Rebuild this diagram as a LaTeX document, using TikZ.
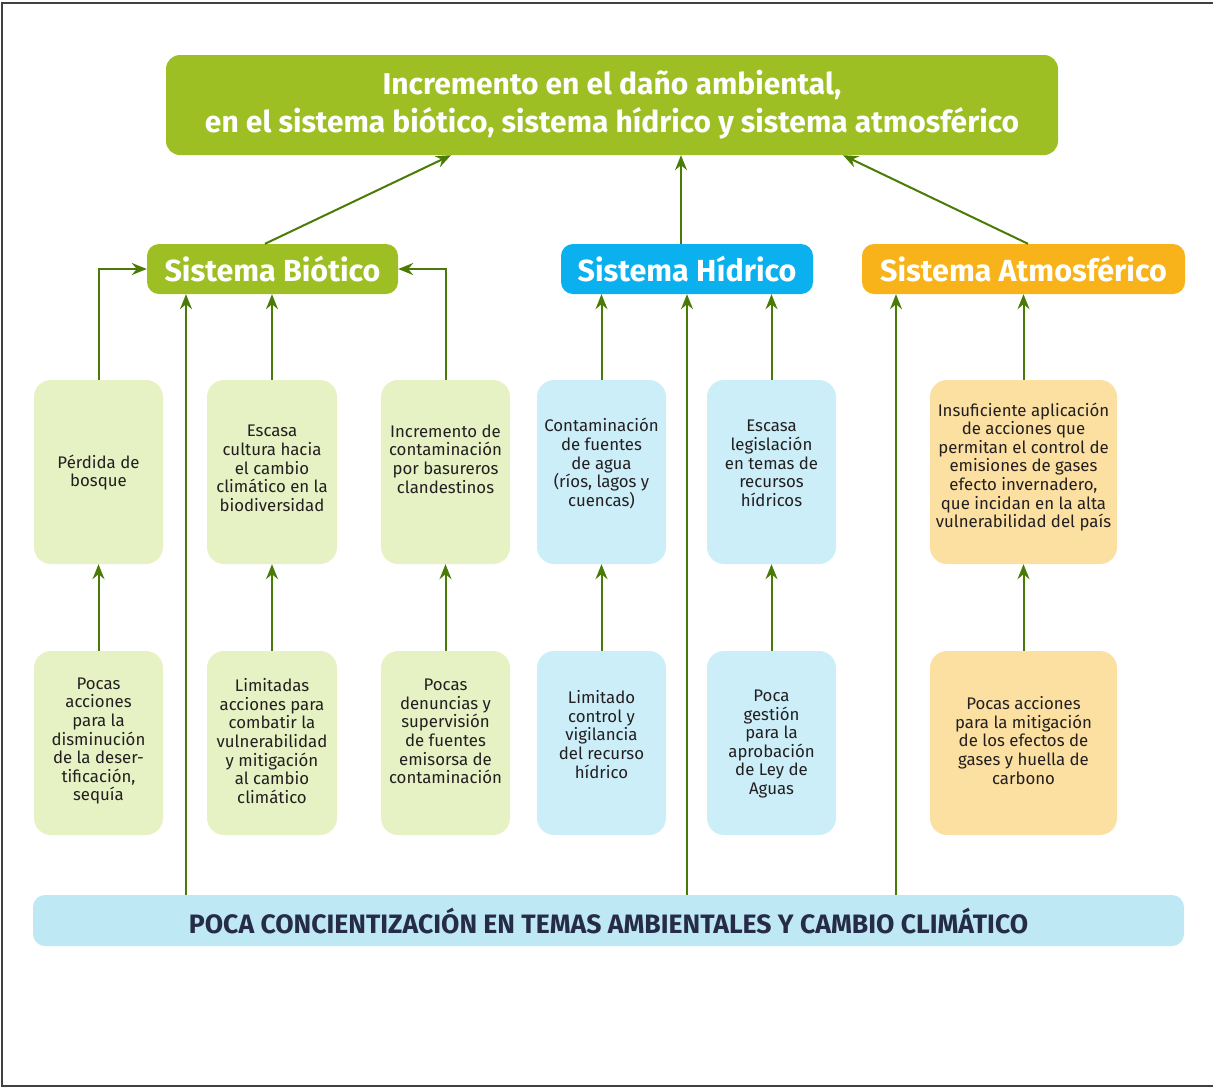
\documentclass[tikz,border=0pt]{standalone}
\usepackage{fontspec}
\setmainfont{Fira Sans}
\newfontfamily\headfont{Fira Sans}
\usetikzlibrary{arrows.meta}
\definecolor{topgreen}{HTML}{9EBF24}
\definecolor{arrowgreen}{HTML}{4A7B06}
\definecolor{hidro}{HTML}{0AB1EE}
\definecolor{atmos}{HTML}{F8B31A}
\definecolor{lgreen}{HTML}{E6F1C4}
\definecolor{lblue}{HTML}{CCEEF9}
\definecolor{lorange}{HTML}{FCE0A1}
\definecolor{barblue}{HTML}{BEE8F4}
\definecolor{navy}{HTML}{262C48}
\definecolor{txtdark}{HTML}{231F20}
\tikzset{
  arr/.style={draw=arrowgreen, line width=2pt, -{Stealth[length=15pt,width=12pt,inset=5pt]}},
  sysbox/.style={rounded corners=12pt, minimum height=50pt, inner sep=0pt, text=white,
    font=\headfont\bfseries\fontsize{30.5}{36}\selectfont},
  cbox/.style={rounded corners=17pt, minimum height=184pt, inner sep=0pt},
  lbl/.style={align=center, text=txtdark, inner sep=0pt, font=\fontsize{16.8}{18.6}\selectfont},
}
\begin{document}
\begin{tikzpicture}[x=1pt,y=-1pt]
\useasboundingbox (0,0) rectangle (1213,1088);
\draw[line width=1.5pt, black!75] (2,3) rectangle (1222,1086);
% top
\node[fill=topgreen, rounded corners=14pt, minimum width=892pt, minimum height=100pt, inner sep=0pt,
  text=white, align=center, font=\headfont\bfseries\fontsize{30}{38}\selectfont]
  (top) at (612,105) {Incremento en el daño ambiental,\\en el sistema biótico, sistema hídrico y sistema atmosférico};
% systems
\node[sysbox, fill=topgreen, minimum width=251pt] (bio) at (272.5,269) {Sistema Biótico};
\node[sysbox, fill=hidro, minimum width=252pt] (hid) at (687,269) {Sistema Hídrico};
\node[sysbox, fill=atmos, minimum width=323pt] (atm) at (1023.5,269) {Sistema Atmosférico};
% middle boxes
\node[cbox, fill=lgreen, minimum width=129pt] (m1) at (98.5,472) {};
\node[cbox, fill=lgreen, minimum width=130pt] (m2) at (272,472) {};
\node[cbox, fill=lgreen, minimum width=129pt] (m3) at (445.5,472) {};
\node[cbox, fill=lblue, minimum width=129pt] (m4) at (601.5,472) {};
\node[cbox, fill=lblue, minimum width=129pt] (m5) at (771.5,472) {};
\node[cbox, fill=lorange, minimum width=187pt] (m6) at (1023.5,472) {};
% bottom boxes
\node[cbox, fill=lgreen, minimum width=129pt] (b1) at (98.5,743) {};
\node[cbox, fill=lgreen, minimum width=130pt] (b2) at (272,743) {};
\node[cbox, fill=lgreen, minimum width=129pt] (b3) at (445.5,743) {};
\node[cbox, fill=lblue, minimum width=129pt] (b4) at (601.5,743) {};
\node[cbox, fill=lblue, minimum width=129pt] (b5) at (771.5,743) {};
\node[cbox, fill=lorange, minimum width=187pt] (b6) at (1023.5,743) {};
% texts
\node[lbl] (tm1) at (98.5,472.5) {Pérdida de\\bosque};
\node[lbl] (tm2) at (272,468.5) {Escasa\\cultura hacia\\el cambio\\climático en la\\biodiversidad};
\node[lbl] (tm3) at (445.5,459) {Incremento de\\contaminación\\por basureros\\clandestinos};
\node[lbl] (tm4) at (601.5,463.5) {Contaminación\\de fuentes\\de agua\\(ríos, lagos y\\cuencas)};
\node[lbl] (tm5) at (771.5,463.5) {Escasa\\legislación\\en temas de\\recursos\\hídricos};
\node[lbl] (tm6) at (1023.5,467) {Insuficiente aplicación\\de acciones que\\permitan el control de\\emisiones de gases\\efecto invernadero,\\que incidan en la alta\\vulnerabilidad del país};
\node[lbl] (tb1) at (98.5,741) {Pocas\\acciones\\para la\\disminución\\de la deser-\\tificación,\\sequía};
\node[lbl] (tb2) at (272,741) {Limitadas\\acciones para\\combatir la\\vulnerabilidad\\y mitigación\\al cambio\\climático};
\node[lbl] (tb3) at (445.5,731.5) {Pocas\\denuncias y\\supervisión\\de fuentes\\emisorsa de\\contaminación};
\node[lbl] (tb4) at (601.5,734.5) {Limitado\\control y\\vigilancia\\del recurso\\hídrico};
\node[lbl] (tb5) at (771.5,744) {Poca\\gestión\\para la\\aprobación\\de Ley de\\Aguas};
\node[lbl] (tb6) at (1023.5,740.5) {Pocas acciones\\para la mitigación\\de los efectos de\\gases y huella de\\carbono};
% bar
\node[fill=barblue, rounded corners=12pt, minimum width=1151pt, minimum height=51pt, inner sep=0pt,
  text=navy, font=\headfont\bfseries\fontsize{26.6}{30}\selectfont]
  (bar) at (608.5,920.5) {POCA CONCIENTIZACIÓN EN TEMAS AMBIENTALES Y CAMBIO CLIMÁTICO};
% helper coordinates
\coordinate (xa) at (186,0);
\coordinate (xb) at (687,0);
\coordinate (xc) at (896,0);
\coordinate (s1) at (265,0);
\coordinate (e1) at (451,0);
\coordinate (s2) at (681,0);
\coordinate (s3) at (1028,0);
\coordinate (e3) at (843,0);
% arrows to top
\draw[arr] (bio.north -| s1) -- (top.south -| e1);
\draw[arr] (hid.north -| s2) -- (top.south -| s2);
\draw[arr] (atm.north -| s3) -- (top.south -| e3);
% middle to systems
\draw[arr] (m1.north) |- (bio.west);
\draw[arr] (m2.north) -- (bio.south -| m2.north);
\draw[arr] (m3.north) |- (bio.east);
\draw[arr] (m4.north) -- (hid.south -| m4.north);
\draw[arr] (m5.north) -- (hid.south -| m5.north);
\draw[arr] (m6.north) -- (atm.south -| m6.north);
% bar to systems
\draw[arr] (bar.north -| xa) -- (bio.south -| xa);
\draw[arr] (bar.north -| xb) -- (hid.south -| xb);
\draw[arr] (bar.north -| xc) -- (atm.south -| xc);
% bottom to middle
\draw[arr] (b1.north) -- (m1.south);
\draw[arr] (b2.north) -- (m2.south);
\draw[arr] (b3.north) -- (m3.south);
\draw[arr] (b4.north) -- (m4.south);
\draw[arr] (b5.north) -- (m5.south);
\draw[arr] (b6.north) -- (m6.south);
\end{tikzpicture}
\end{document}
